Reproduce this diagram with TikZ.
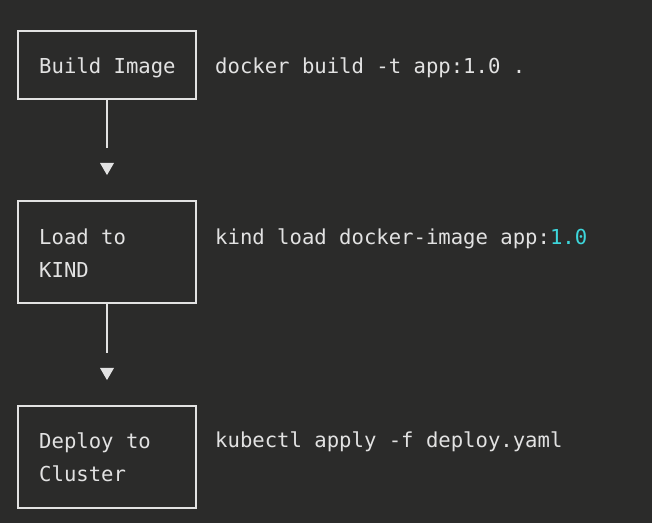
\documentclass[tikz,border=0pt]{standalone}
\usepackage{fontspec}
\setmonofont{DejaVu Sans Mono}
\usetikzlibrary{shapes.geometric}
\definecolor{bgc}{HTML}{2B2B2A}
\definecolor{fgc}{HTML}{E2E2E2}
\definecolor{cyanc}{HTML}{3DD6DB}
\tikzset{
  stepbox/.style={draw=fgc, line width=2pt, minimum width=178pt, minimum height=#1, inner sep=0pt},
  lbl/.style={anchor=base west, inner sep=0pt, text=fgc, font=\ttfamily\fontsize{20.6}{24}\selectfont},
  conn/.style={draw=fgc, line width=2pt},
  tip/.style={fill=fgc, draw=none, isosceles triangle, shape border rotate=-90, isosceles triangle apex angle=60, minimum width=14pt, minimum height=12pt, inner sep=0pt}
}
\begin{document}
\begin{tikzpicture}[x=1pt, y=-1pt]
\fill[bgc] (0,0) rectangle (652,523);
\useasboundingbox (0,0) rectangle (652,523);
% boxes
\node[stepbox=68pt] (b1) at (107,65) {};
\node[stepbox=102pt] (b2) at (107,252) {};
\node[stepbox=102pt] (b3) at (107,457) {};
% box texts
\node[lbl] (t1) at (39,73) {Build Image};
\node[lbl] (t2a) at (39,244) {Load to};
\node[lbl] (t2b) at (39,277) {KIND};
\node[lbl] (t3a) at (39,448) {Deploy to};
\node[lbl] (t3b) at (39,481) {Cluster};
% commands
\node[lbl] (c1) at (215,73) {docker build -t app:1.0 .};
\node[lbl] (c2) at (215,244) {kind load docker-image app:\textcolor{cyanc}{1.0}};
\node[lbl] (c3) at (215,447) {kubectl apply -f deploy.yaml};
% connectors
\coordinate (e1) at (107,148);
\coordinate (e2) at (107,353);
\node[tip] (a1) at (107,167) {};
\node[tip] (a2) at (107,372) {};
\draw[conn] (b1.south) -- (e1);
\draw[conn] (b2.south) -- (e2);
\end{tikzpicture}
\end{document}
